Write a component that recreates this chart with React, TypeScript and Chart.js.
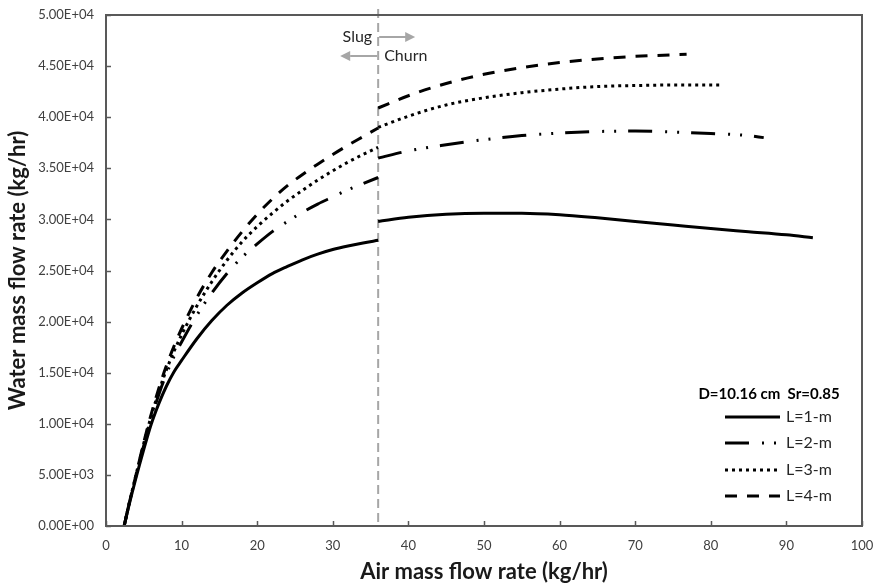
import React, { useEffect, useRef } from "react";
import { Chart, registerables } from "chart.js";

Chart.register(...registerables);

// ---- Data ----
const slugX = [2.4, 3, 4, 5, 6, 7, 8, 9, 10, 12, 14, 16, 18, 20, 22, 24, 26, 28, 30, 32, 34, 36];
const slugL1 = [0, 1900, 4800, 7500, 10000, 12000, 13700, 15100, 16200, 18300, 20100, 21600, 22800, 23800, 24700, 25400, 26050, 26600, 27050, 27400, 27700, 27950];
const slugL2 = [0, 2000, 5000, 7900, 10600, 12900, 14900, 16600, 18000, 20600, 22800, 24700, 26300, 27600, 28800, 29800, 30700, 31500, 32200, 32900, 33500, 34100];
const slugL3 = [0, 2000, 5100, 8100, 10800, 13200, 15300, 17100, 18700, 21500, 23900, 26000, 27800, 29300, 30600, 31800, 32850, 33850, 34750, 35600, 36350, 37050];
const slugL4 = [0, 2000, 5100, 8200, 11000, 13500, 15700, 17600, 19300, 22300, 24800, 26900, 28800, 30500, 32000, 33300, 34400, 35400, 36350, 37250, 38100, 38950];

const churnX1 = [36, 40, 45, 50, 55, 60, 65, 70, 75, 80, 85, 90, 93.5];
const churnL1 = [29800, 30200, 30500, 30600, 30600, 30450, 30150, 29800, 29450, 29100, 28800, 28500, 28200];
const churnX2 = [36, 40, 45, 50, 55, 60, 65, 70, 75, 80, 85, 87];
const churnL2 = [36000, 36700, 37300, 37800, 38200, 38450, 38600, 38650, 38550, 38400, 38200, 38000];
const churnX3 = [36, 40, 45, 50, 55, 60, 65, 70, 75, 81.3];
const churnL3 = [39000, 40100, 41200, 41900, 42400, 42750, 43000, 43100, 43150, 43150];
const churnX4 = [36, 40, 45, 50, 55, 60, 65, 70, 76.8];
const churnL4 = [40900, 42100, 43300, 44200, 44850, 45350, 45700, 45950, 46150];

const seriesLabels = ["L=1-m", "L=2-m", "L=3-m", "L=4-m"];
const legendTitle = "D=10.16 cm  Sr=0.85";
const boundaryX = 36;
const regimeLeft = "Slug";
const regimeRight = "Churn";
const xTitle = "Air mass flow rate (kg/hr)";
const yTitle = "Water mass flow rate (kg/hr)";

const dashes: number[][] = [[], [24, 13, 2, 10, 2, 12], [3, 4], [12, 10]];

const FONT = "Lato, 'Open Sans', sans-serif";

function fmtExp(v: number): string {
  const [m, e] = Number(v).toExponential(2).split("e");
  const sign = e[0] === "-" ? "-" : "+";
  const digits = e.replace(/^[+-]/, "").padStart(2, "0");
  return `${m}E${sign}${digits}`;
}

function toPts(xs: number[], ys: number[]) {
  return xs.map((x, i) => ({ x, y: ys[i] }));
}

const decorPlugin = {
  id: "decor",
  beforeDatasetsDraw(chart: any) {
    const { ctx, chartArea, scales } = chart;
    const xs = scales.x;
    const px = xs.getPixelForValue(boundaryX);
    ctx.save();
    ctx.strokeStyle = "#a6a6a6";
    ctx.lineWidth = 2;
    ctx.setLineDash([9, 5]);
    ctx.beginPath();
    ctx.moveTo(px, chartArea.top - 6);
    ctx.lineTo(px, chartArea.bottom);
    ctx.stroke();
    ctx.restore();
  },
  afterDatasetsDraw(chart: any) {
    const { ctx, chartArea, scales } = chart;
    const xs = scales.x;
    const ys = scales.y;
    ctx.save();
    // box
    ctx.strokeStyle = "#595959";
    ctx.lineWidth = 2;
    ctx.setLineDash([]);
    ctx.strokeRect(chartArea.left, chartArea.top, chartArea.right - chartArea.left, chartArea.bottom - chartArea.top);
    // inner ticks
    ctx.lineWidth = 1.5;
    xs.ticks.forEach((t: any) => {
      const p = Math.round(xs.getPixelForValue(t.value)) + 0.5;
      ctx.beginPath();
      ctx.moveTo(p, chartArea.bottom);
      ctx.lineTo(p, chartArea.bottom - 5);
      ctx.stroke();
    });
    ys.ticks.forEach((t: any) => {
      const p = Math.round(ys.getPixelForValue(t.value)) + 0.5;
      ctx.beginPath();
      ctx.moveTo(chartArea.left, p);
      ctx.lineTo(chartArea.left + 5, p);
      ctx.stroke();
    });

    // regime annotation
    const bx = xs.getPixelForValue(boundaryX);
    const yTop = chartArea.top + 22;
    const yBot = chartArea.top + 41;
    ctx.strokeStyle = "#a6a6a6";
    ctx.fillStyle = "#a6a6a6";
    ctx.lineWidth = 2;
    // right arrow
    ctx.beginPath();
    ctx.moveTo(bx + 1, yTop);
    ctx.lineTo(bx + 28, yTop);
    ctx.stroke();
    ctx.beginPath();
    ctx.moveTo(bx + 37, yTop);
    ctx.lineTo(bx + 27, yTop - 5);
    ctx.lineTo(bx + 27, yTop + 5);
    ctx.closePath();
    ctx.fill();
    // left arrow
    ctx.beginPath();
    ctx.moveTo(bx - 1, yBot);
    ctx.lineTo(bx - 28, yBot);
    ctx.stroke();
    ctx.beginPath();
    ctx.moveTo(bx - 38, yBot);
    ctx.lineTo(bx - 28, yBot - 5);
    ctx.lineTo(bx - 28, yBot + 5);
    ctx.closePath();
    ctx.fill();
    ctx.fillStyle = "#262626";
    ctx.font = `16px ${FONT}`;
    ctx.textBaseline = "middle";
    ctx.textAlign = "right";
    ctx.fillText(regimeLeft, bx - 6, yTop);
    ctx.textAlign = "left";
    ctx.fillText(regimeRight, bx + 6, yBot);

    // legend
    const right = chartArea.right;
    const bottom = chartArea.bottom;
    ctx.fillStyle = "#000";
    ctx.font = `bold 15px ${FONT}`;
    ctx.textAlign = "center";
    ctx.fillText(legendTitle, right - 93, bottom - 132);
    ctx.font = `16px ${FONT}`;
    ctx.textAlign = "left";
    const rows = [bottom - 109, bottom - 83, bottom - 56, bottom - 30];
    seriesLabels.forEach((lab, i) => {
      const y = rows[i];
      ctx.strokeStyle = "#000";
      ctx.lineWidth = 3;
      ctx.lineCap = "butt";
      ctx.setLineDash(dashes[i]);
      ctx.beginPath();
      ctx.moveTo(right - 137, y);
      ctx.lineTo(right - 82, y);
      ctx.stroke();
      ctx.setLineDash([]);
      ctx.fillStyle = "#262626";
      ctx.fillText(lab, right - 76, y);
    });
    ctx.restore();
  },
};

export default function App() {
  const ref = useRef<HTMLCanvasElement | null>(null);
  useEffect(() => {
    if (!ref.current) return;
    const slugs = [slugL1, slugL2, slugL3, slugL4];
    const churnXs = [churnX1, churnX2, churnX3, churnX4];
    const churns = [churnL1, churnL2, churnL3, churnL4];
    const datasets: any[] = [];
    seriesLabels.forEach((lab, i) => {
      const common = {
        borderColor: "#000",
        backgroundColor: "#000",
        borderWidth: 3,
        borderDash: dashes[i],
        borderCapStyle: "butt",
        pointRadius: 0,
        fill: false,
        cubicInterpolationMode: "monotone",
        showLine: true,
      };
      datasets.push({ ...common, label: lab + " slug", data: toPts(slugX, slugs[i]) });
      datasets.push({ ...common, label: lab + " churn", data: toPts(churnXs[i], churns[i]) });
    });
    const chart = new Chart(ref.current, {
      type: "line",
      data: { datasets },
      options: {
        responsive: false,
        animation: false,
        layout: { padding: { top: 15, right: 11, left: 0, bottom: 0 } },
        plugins: { legend: { display: false }, tooltip: { enabled: false } },
        scales: {
          x: {
            type: "linear",
            min: 0,
            max: 100,
            afterFit: (s: any) => { s.height = 59; s.paddingLeft = 0; s.paddingRight = 0; },
            ticks: { stepSize: 10, color: "#404040", font: { family: FONT, size: 13 }, padding: 12, maxRotation: 0 },
            grid: { display: false, drawTicks: false },
            border: { display: false },
            title: { display: true, text: xTitle, color: "#1a1a1a", font: { family: FONT, size: 22, weight: "bold" }, padding: { top: 0, bottom: 0 } },
          },
          y: {
            type: "linear",
            min: 0,
            max: 50000,
            afterFit: (s: any) => { s.width = 106; s.paddingTop = 0; s.paddingBottom = 0; },
            ticks: { stepSize: 5000, color: "#404040", font: { family: FONT, size: 13 }, padding: 12, callback: (v: any) => fmtExp(Number(v)) },
            grid: { display: false, drawTicks: false },
            border: { display: false },
            title: { display: true, text: yTitle, color: "#1a1a1a", font: { family: FONT, size: 22, weight: "bold" }, padding: { top: 5, bottom: 0 } },
          },
        },
      },
      plugins: [decorPlugin],
    } as any);
    return () => chart.destroy();
  }, []);
  return (
    <div style={{ position: "absolute", left: 0, top: 0, width: 873, height: 585, background: "#fff" }}>
      <canvas ref={ref} width={873} height={585} style={{ display: "block" }} />
    </div>
  );
}
